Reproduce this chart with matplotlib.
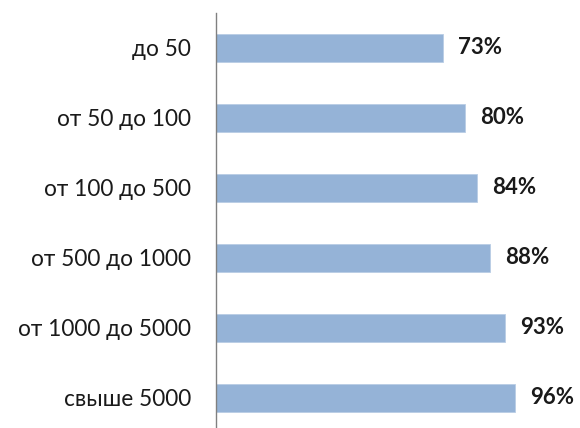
import numpy as np
import matplotlib
matplotlib.use("Agg")
from matplotlib import pyplot as plt

plt.rcParams['font.family'] = ['Lato', 'DejaVu Sans']

categories = ["до 50", "от 50 до 100", "от 100 до 500", "от 500 до 1000",
              "от 1000 до 5000", "свыше 5000"]
values = [73, 80, 84, 88, 93, 96]

fig = plt.figure(figsize=(5.8, 4.28), dpi=100)
# axes placed in pixels: x from 216 to 580, y from 13 to 433 (top-down)
ax = fig.add_axes([216 / 580, (428 - 433) / 428, 364 / 580, 420 / 428])

y = np.arange(len(categories))
ax.barh(y, values, height=0.4, color="#95B3D7", edgecolor="#B9CDE5", linewidth=0.6)

for yi, v in zip(y, values):
    ax.annotate(f"{v}%", xy=(v, yi), xytext=(11, 0), textcoords="offset points",
                va="center", ha="left", fontsize=16, fontweight="bold", color="#1a1a1a")

ax.set_xlim(0, 117)
ax.set_ylim(len(categories) - 0.5, -0.5)
ax.set_yticks(y)
ax.set_yticklabels(categories, fontsize=16.3, color="#1a1a1a")
ax.tick_params(axis="y", length=0, pad=18)
ax.set_xticks([])
for s in ["top", "right", "bottom"]:
    ax.spines[s].set_visible(False)
ax.spines["left"].set_color("#808080")
ax.spines["left"].set_linewidth(1.0)

fig.savefig("out.png", dpi=100)
